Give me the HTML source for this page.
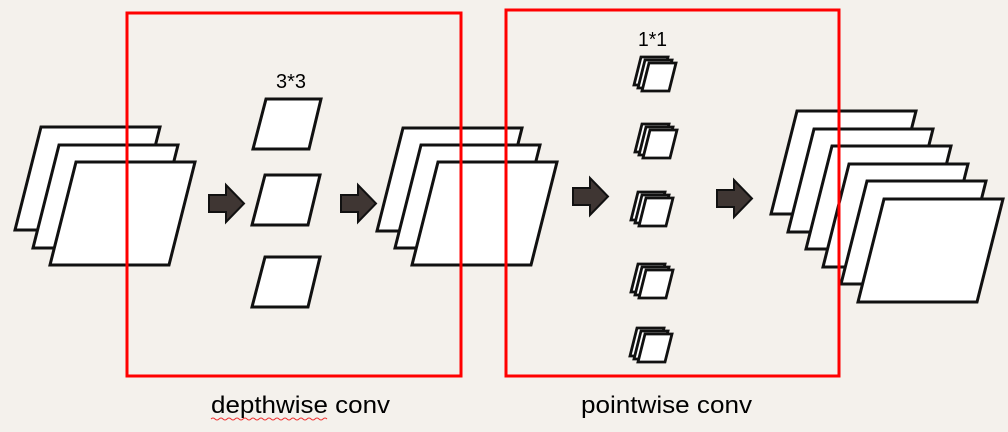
<!DOCTYPE html>
<html><head><meta charset="utf-8"><style>
html,body{margin:0;padding:0;background:#f4f1ec;}
svg{display:block;}
text{font-family:"Liberation Sans",Arial,sans-serif;fill:#000;}
</style></head><body>
<svg width="1008" height="432" viewBox="0 0 1008 432" xmlns="http://www.w3.org/2000/svg">
<defs>
<polygon id="big" points="26,0 145,0 119,103 0,103" fill="#fff" stroke="#111" stroke-width="3" stroke-linejoin="miter"/>
<polygon id="k" points="13,0 68,0 56,50 0,50" fill="#fff" stroke="#111" stroke-width="3"/>
<g id="sm">
<polygon points="7,0 34,0 27,28 0,28" fill="#fff" stroke="#111" stroke-width="2.8"/>
<polygon points="11,3 38,3 31,31 4,31" fill="#fff" stroke="#111" stroke-width="2.8"/>
<polygon points="15,6 42,6 35,34 8,34" fill="#fff" stroke="#111" stroke-width="2.8"/>
</g>
<polygon id="arr" points="0,10 17,10 17,0 35,18.5 17,37 17,27 0,27" fill="#3f3633" stroke="#111" stroke-width="2"/>
</defs>
<rect width="1008" height="432" fill="#f4f1ec"/>
<use href="#big" x="15" y="127"/>
<use href="#big" x="33" y="145"/>
<use href="#big" x="50" y="162"/>
<use href="#arr" x="209" y="185"/>
<use href="#k" x="253" y="99"/>
<use href="#k" x="252" y="175"/>
<use href="#k" x="252" y="257"/>
<text x="276" y="88" font-size="20" textLength="30" lengthAdjust="spacingAndGlyphs">3*3</text>
<use href="#arr" x="341" y="185"/>
<use href="#big" x="377" y="128"/>
<use href="#big" x="395" y="145"/>
<use href="#big" x="412" y="162"/>
<use href="#arr" x="573" y="178"/>
<text x="638" y="46" font-size="20" textLength="29" lengthAdjust="spacingAndGlyphs">1*1</text>
<use href="#sm" x="634" y="57"/>
<use href="#sm" x="635" y="124"/>
<use href="#sm" x="631" y="192"/>
<use href="#sm" x="631" y="264"/>
<use href="#sm" x="630" y="328"/>
<use href="#arr" x="717" y="180"/>
<use href="#big" x="771" y="111"/>
<use href="#big" x="788" y="129"/>
<use href="#big" x="806" y="146"/>
<use href="#big" x="823" y="164"/>
<use href="#big" x="841" y="181"/>
<use href="#big" x="858" y="199"/>
<rect x="127" y="13" width="334" height="363" fill="none" stroke="#ff0000" stroke-width="3"/>
<rect x="506" y="10" width="333" height="366" fill="none" stroke="#ff0000" stroke-width="3"/>
<text x="211" y="413" font-size="24" textLength="179" lengthAdjust="spacingAndGlyphs">depthwise conv</text>
<path d="M211,419 q2,-2 4,0 t4,0 t4,0 t4,0 t4,0 t4,0 t4,0 t4,0 t4,0 t4,0 t4,0 t4,0 t4,0 t4,0 t4,0 t4,0 t4,0 t4,0 t4,0 t4,0 t4,0 t4,0 t4,0 t4,0 t4,0 t4,0 t4,0 t4,0 t4,0" fill="none" stroke="#e33" stroke-width="1"/>
<text x="581" y="413" font-size="24" textLength="171" lengthAdjust="spacingAndGlyphs">pointwise conv</text>
</svg>
</body></html>
